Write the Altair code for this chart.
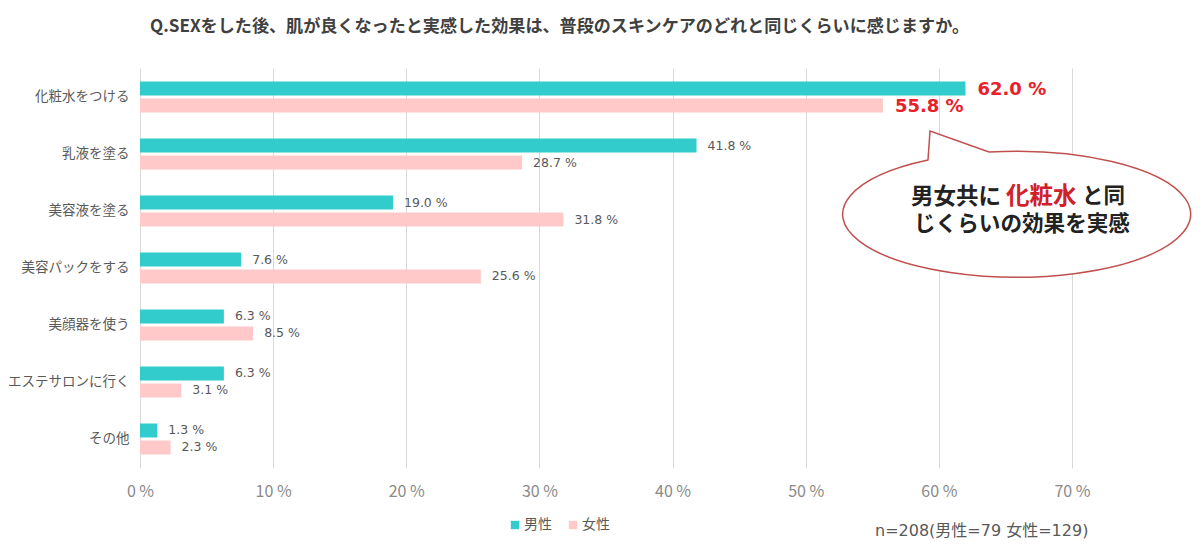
import altair as alt
import pandas as pd

categories = ["化粧水をつける", "乳液を塗る", "美容液を塗る", "美容パックをする", "美顔器を使う", "エステサロンに行く", "その他"]
male = [62.0, 41.8, 19.0, 7.6, 6.3, 6.3, 1.3]
female = [55.8, 28.7, 31.8, 25.6, 8.5, 3.1, 2.3]
genders = ["男性", "女性"]
x_ticks = [0, 10, 20, 30, 40, 50, 60, 70]

title_text = "Q.SEXをした後、肌が良くなったと実感した効果は、普段のスキンケアのどれと同じくらいに感じますか。"
note_text = "n=208(男性=79 女性=129)"

rows = []
for c, m, f in zip(categories, male, female):
    rows.append({"cat": c, "gender": genders[0], "value": m})
    rows.append({"cat": c, "gender": genders[1], "value": f})
df = pd.DataFrame(rows)

FONT = "Noto Sans CJK JP"
NUMFONT = "DejaVu Sans, Noto Sans CJK JP"
GRAY = "#595959"

y_enc = alt.Y("cat:N", sort=categories, title=None,
              scale=alt.Scale(paddingInner=0.456, paddingOuter=0.237),
              axis=alt.Axis(labelFont=FONT, labelFontSize=13.5, labelColor=GRAY,
                            ticks=False, domain=False, labelPadding=11, grid=False,
                            labelLimit=200))
yoff_enc = alt.YOffset("gender:N", sort=genders,
                       scale=alt.Scale(paddingInner=0.176, paddingOuter=0))
x_enc = alt.X("value:Q", title=None,
              scale=alt.Scale(domain=[0, 70], nice=False),
              axis=alt.Axis(values=x_ticks, labelExpr="datum.value + ' %'",
                            labelFont=FONT, labelFontSize=16, labelColor="#8a8a8a",
                            ticks=False, domain=False, grid=True, gridColor="#d9d9d9",
                            labelPadding=15, labelFlush=False))

base = alt.Chart(df)

bars = base.mark_bar().encode(
    y=y_enc, yOffset=yoff_enc, x=x_enc,
    color=alt.Color("gender:N", sort=genders,
                    scale=alt.Scale(domain=genders, range=["#33CCCC", "#FFC9C9"]),
                    legend=alt.Legend(title=None, orient="none", direction="horizontal",
                                      legendX=368, legendY=450, symbolType="square",
                                      symbolSize=70, labelFont=FONT, labelFontSize=14,
                                      labelColor=GRAY, columnPadding=14, symbolOffset=0,
                                      labelOffset=2))
)

small_labels = base.transform_filter(
    alt.datum.cat != categories[0]
).transform_calculate(
    lbl="format(datum.value, '.1f') + ' %'"
).mark_text(align="left", baseline="middle", dx=11, font=NUMFONT, fontSize=12.5, color=GRAY).encode(
    y=alt.Y("cat:N", sort=categories), yOffset=alt.YOffset("gender:N", sort=genders),
    x="value:Q", text="lbl:N"
)

big_labels = base.transform_filter(
    alt.datum.cat == categories[0]
).transform_calculate(
    lbl="format(datum.value, '.1f') + ' %'"
).mark_text(align="left", baseline="middle", dx=12, dy=1.5, font=NUMFONT, fontSize=18,
            fontWeight="bold", color="#E8202A").encode(
    y=alt.Y("cat:N", sort=categories), yOffset=alt.YOffset("gender:N", sort=genders),
    x="value:Q", text="lbl:N"
)

one = alt.Data(values=[{"k": 1}])

# speech bubble: ellipse with tail (unit coords, scale r = 180)
r = 180.0
def u(v):
    return f"{v / r:.4f}"
bubble_path = (f"M {u(-92)} {u(-54)} L {u(-90)} {u(-83)} L {u(-31)} {u(-62)} "
               f"A {u(174)} {u(63)} 0 1 1 {u(-92)} {u(-54)} Z")
bubble = alt.Chart(one).mark_point(
    shape=bubble_path, size=(2 * r) ** 2, filled=True, fill="white",
    stroke="#C0504D", strokeWidth=1.5, opacity=1, fillOpacity=1, strokeOpacity=1
).encode(x=alt.value(880), y=alt.value(146))

def txt(s, x, y, size, color, weight="normal", align="left", font=FONT):
    return alt.Chart(one).mark_text(
        text=s, align=align, baseline="middle", font=font, fontSize=size,
        color=color, fontWeight=weight
    ).encode(x=alt.value(x), y=alt.value(y))

b1 = txt("男女共に", 771, 129, 22.5, "#222222", "bold")
b2 = txt("化粧水", 866, 129, 23.5, "#D0202A", "bold")
b3 = txt("と同", 942, 129, 21.5, "#222222", "bold")
b4 = txt("じくらいの効果を実感", 774, 157, 21.6, "#222222", "bold")

title = txt(title_text, 10, -41, 17.1, "#404040", "bold")
note = txt(note_text, 735, 463, 16, GRAY, font=NUMFONT)

chart = alt.layer(bars, small_labels, big_labels, bubble, b1, b2, b3, b4, title, note).properties(
    width=932, height=400,
    autosize=alt.AutoSizeParams(type="none"),
    padding={"left": 132, "top": 60, "right": 120, "bottom": 78},
    background="white",
).configure_view(strokeWidth=0)

chart.save("out.html", embed_options={"renderer": "svg", "actions": False})
